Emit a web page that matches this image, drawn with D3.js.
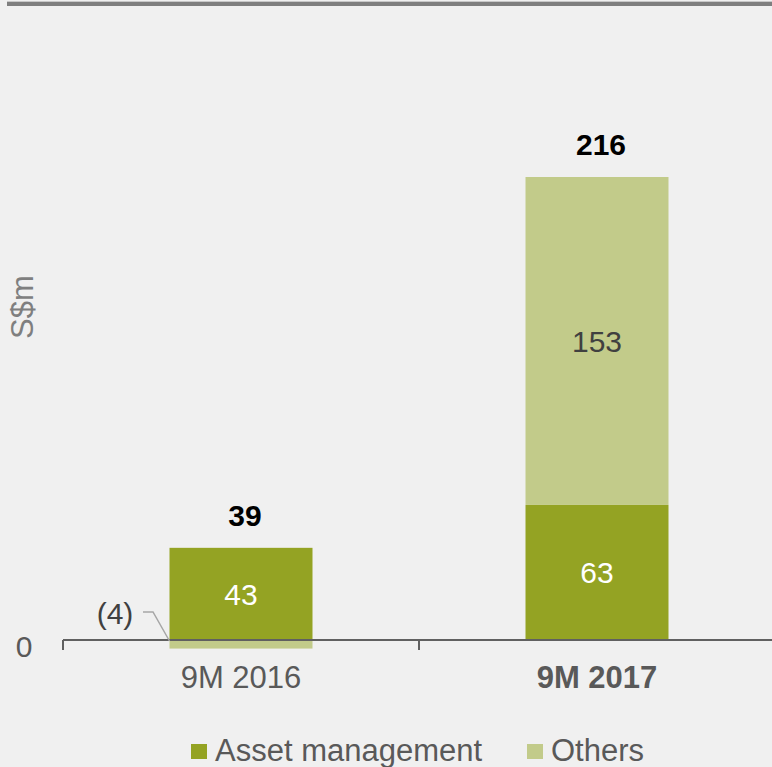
<!DOCTYPE html>
<html><head><meta charset="utf-8">
<script src="https://cdn.jsdelivr.net/npm/d3@7"></script>
<style>
html,body{margin:0;padding:0;background:#f0f0f0;}
svg{display:block;font-family:"Liberation Sans",Arial,sans-serif;}
</style></head>
<body>
<svg id="c" width="772" height="767"></svg>
<script>
const categories = ["9M 2016", "9M 2017"];
const assetManagement = [43, 63];
const others = [-4, 153];
const totals = [39, 216];
const seriesNames = ["Asset management", "Others"];
const colors = ["#94A323", "#C2CB8A"];

const FS = 30;
const svg = d3.select("#c");
svg.append("rect").attr("width",772).attr("height",767).attr("fill","#f0f0f0");
// top rule
svg.append("rect").attr("x",7).attr("y",1).attr("width",765).attr("height",5).attr("fill","#c8c8c8");
svg.append("rect").attr("x",7).attr("y",2).attr("width",765).attr("height",4).attr("fill","#7f7f7f");

const x = d3.scaleBand().domain(categories).range([63, 775]).paddingInner(0).paddingOuter(0);
const y = d3.scaleLinear().domain([0, 216]).range([640, 177]);
const barW = 143;
const cx = c => x(c) + x.bandwidth()/2;

// bars
categories.forEach((c,i)=>{
  const a = assetManagement[i], o = others[i];
  svg.append("rect").attr("x", cx(c)-barW/2).attr("width", barW)
    .attr("y", y(Math.max(0,a))).attr("height", Math.abs(y(0)-y(a))).attr("fill", colors[0]);
  let y0, y1;
  if (o >= 0) { y0 = a; y1 = a + o; } else { y0 = 0; y1 = o; }
  svg.append("rect").attr("x", cx(c)-barW/2).attr("width", barW)
    .attr("y", y(Math.max(y0,y1))).attr("height", Math.abs(y(y0)-y(y1))).attr("fill", colors[1]);
});

// axis
const axisG = svg.append("g").attr("transform","translate(0,"+y(0)+")");
axisG.append("line").attr("x1",63).attr("x2",772).attr("y1",0).attr("y2",0).attr("stroke","#606060").attr("stroke-width",2);
[x(categories[0]), x(categories[1])].forEach(t=>{
  axisG.append("line").attr("x1",t).attr("x2",t).attr("y1",0).attr("y2",10).attr("stroke","#606060").attr("stroke-width",2);
});

// y zero label
svg.append("text").attr("x",24).attr("y",657).attr("text-anchor","middle")
  .attr("font-size",FS).attr("fill","#595959").text("0");
// y title
svg.append("text").attr("transform","translate(33,307) rotate(-90)").attr("text-anchor","middle")
  .attr("font-size",31).attr("fill","#7f7f7f").text("S$m");

// category labels
categories.forEach((c,i)=>{
  svg.append("text").attr("x",cx(c)).attr("y",688).attr("text-anchor","middle")
    .attr("font-size",31).attr("font-weight", i===1?"bold":"normal").attr("fill","#595959").text(c);
});

// value labels
categories.forEach((c,i)=>{
  const a = assetManagement[i], o = others[i];
  svg.append("text").attr("x",cx(c)).attr("y",(y(0)+y(a))/2+11).attr("text-anchor","middle")
    .attr("font-size",FS).attr("fill","#ffffff").text(a);
  if (o >= 0) {
    svg.append("text").attr("x",cx(c)).attr("y",(y(a)+y(a+o))/2+11).attr("text-anchor","middle")
      .attr("font-size",FS).attr("fill","#404040").text(o);
  } else {
    svg.append("text").attr("x",115).attr("y",624).attr("text-anchor","middle")
      .attr("font-size",FS).attr("fill","#404040").text("(" + Math.abs(o) + ")");
    svg.append("polyline").attr("points", [[143,612],[153,612],[cx(c)-barW/2, y(0)+1]].map(p=>p.join(",")).join(" "))
      .attr("fill","none").attr("stroke","#a6a6a6").attr("stroke-width",1.5);
  }
  const top = Math.max(a, a + Math.max(0,o));
  svg.append("text").attr("x",cx(c)+4).attr("y",y(top)-22).attr("text-anchor","middle")
    .attr("font-size",FS).attr("font-weight","bold").attr("fill","#000000").text(totals[i]);
});

// legend
const leg = [[191,215],[527,551]];
seriesNames.forEach((s,i)=>{
  svg.append("rect").attr("x",leg[i][0]).attr("y",744).attr("width",16).attr("height",15).attr("fill",colors[i]);
  svg.append("text").attr("x",leg[i][1]).attr("y",761).attr("font-size",31).attr("fill","#595959").text(s);
});
</script>
</body></html>
